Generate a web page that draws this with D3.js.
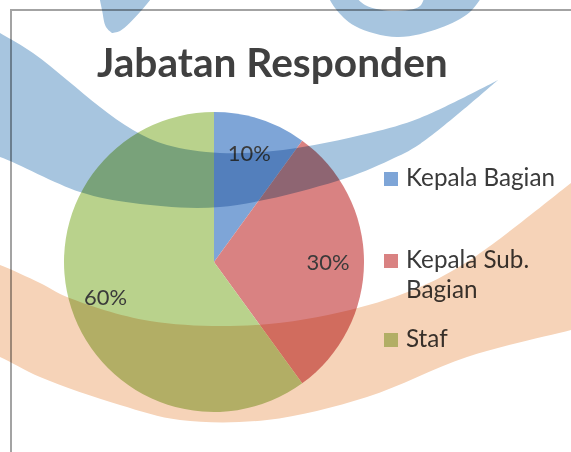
<!DOCTYPE html>
<html>
<head>
<meta charset="utf-8">
<style>
  body { margin: 0; background: #fff; }
  svg { display: block; }
</style>
</head>
<body>
<div id="chart"></div>
<script src="https://cdn.jsdelivr.net/npm/d3@7/dist/d3.min.js"></script>
<script>
// chart data
var categories = ["Kepala Bagian", "Kepala Sub. Bagian", "Staf"];
var values = [10, 30, 60];
var valueLabels = ["10%", "30%", "60%"];
var legendLines = [["Kepala Bagian"], ["Kepala Sub.", "Bagian"], ["Staf"]];
var colors = ["#7ea5d7", "#d98282", "#b9d28c"];

var W = 571, H = 452;
var svg = d3.select("#chart").append("svg")
  .attr("width", W).attr("height", H);
svg.append("rect").attr("width", W).attr("height", H).attr("fill", "#fff");

// shrink/grow a text so it spans the given width
function fitWidth(sel, width) {
  var len = sel.node().getComputedTextLength();
  var fs = parseFloat(sel.attr("font-size"));
  sel.attr("font-size", fs * width / len);
  return fs * width / len;
}

// chart frame (cut by the page edges)
svg.append("path")
  .attr("d", "M11," + H + "V10H" + W)
  .attr("fill", "none")
  .attr("stroke", "#a3a3a3")
  .attr("stroke-width", 2);

// title
var title = svg.append("text")
  .attr("x", 97).attr("y", 77)
  .attr("font-family", "Lato, 'Open Sans', sans-serif")
  .attr("font-weight", "bold")
  .attr("font-size", 40)
  .attr("fill", "#404040")
  .text("Jabatan Responden");
fitWidth(title, 351);

// pie
var cx = 214, cy = 262, R = 150;
var pie = d3.pie().sort(null).startAngle(0).endAngle(2 * Math.PI);
var arcs = pie(values);
var arc = d3.arc().innerRadius(0).outerRadius(R);
var labelArc = d3.arc().innerRadius(114).outerRadius(114);

var g = svg.append("g").attr("transform", "translate(" + cx + "," + cy + ")");
g.selectAll("path.slice")
  .data(arcs)
  .enter().append("path")
  .attr("class", "slice")
  .attr("d", arc)
  .attr("fill", function (d, i) { return colors[i]; });

var lblSize = null;
g.selectAll("text.lbl")
  .data(arcs)
  .enter().append("text")
  .attr("class", "lbl")
  .attr("transform", function (d) { return "translate(" + labelArc.centroid(d) + ")"; })
  .attr("text-anchor", "middle")
  .attr("dy", "0.35em")
  .attr("font-family", "Lato, 'Open Sans', sans-serif")
  .attr("font-size", 24)
  .attr("fill", "#3a3a3a")
  .text(function (d, i) { return valueLabels[i]; })
  .each(function (d, i) {
    if (i === 0) lblSize = fitWidth(d3.select(this), 43);
    else d3.select(this).attr("font-size", lblSize);
  });

// legend
var legendX = 384, legendTextX = 406;
var legendBase = [186, 268, 347];
var lineGap = 30;
var legendSize = null;
var leg = svg.append("g");
categories.forEach(function (c, i) {
  leg.append("rect")
    .attr("x", legendX).attr("y", legendBase[i] - 14)
    .attr("width", 14).attr("height", 14)
    .attr("fill", colors[i]);
  legendLines[i].forEach(function (line, j) {
    var t = leg.append("text")
      .attr("x", legendTextX)
      .attr("y", legendBase[i] + j * lineGap)
      .attr("font-family", "Lato, 'Open Sans', sans-serif")
      .attr("font-size", 22)
      .attr("fill", "#3a3a3a")
      .text(line);
    if (legendSize === null) legendSize = fitWidth(t, 149);
    else t.attr("font-size", legendSize);
  });
});

// watermark swooshes laid over the scanned chart
var edge = d3.line().curve(d3.curveCatmullRom.alpha(0.5));
function band(upper, lower) {
  return edge(upper) + edge(lower.slice().reverse()).replace("M", "L") + "Z";
}
var blueBand = band(
  [[-20, 22], [0, 33], [33, 53], [67, 80], [100, 107], [133, 130], [167, 145], [220, 153], [283, 150], [370, 133], [420, 118], [498, 80]],
  [[-20, 152], [0, 157], [80, 192], [133, 203], [220, 207], [337, 181], [390, 160], [420, 144], [498, 80]]
);
var blueTip = band(
  [[98, -10], [102, 10], [106, 27], [112, 33]],
  [[158, -10], [140, 12], [120, 31], [112, 33]]
);
var blueHook = band(
  [[325, -10], [335, 8], [355, 26], [397, 37], [440, 28], [470, 12], [486, -10]],
  [[350, -10], [365, 5], [395, 11], [420, 6], [426, -10]]
);
var orangeBand = band(
  [[-20, 258], [0, 265], [40, 283], [67, 297], [150, 321], [257, 325], [350, 310], [420, 287], [470, 260], [571, 183], [590, 168]],
  [[-20, 350], [0, 357], [40, 377], [120, 405], [180, 420], [267, 420], [367, 397], [467, 357], [571, 330], [590, 325]]
);

var wm = svg.append("g");
[[blueBand, "#a7c5df"], [blueTip, "#a7c5df"], [blueHook, "#a7c5df"], [orangeBand, "#f6d3b8"]]
  .forEach(function (s) {
    wm.append("path")
      .attr("d", s[0])
      .attr("fill", s[1])
      .style("mix-blend-mode", "multiply");
  });
</script>
</body>
</html>
